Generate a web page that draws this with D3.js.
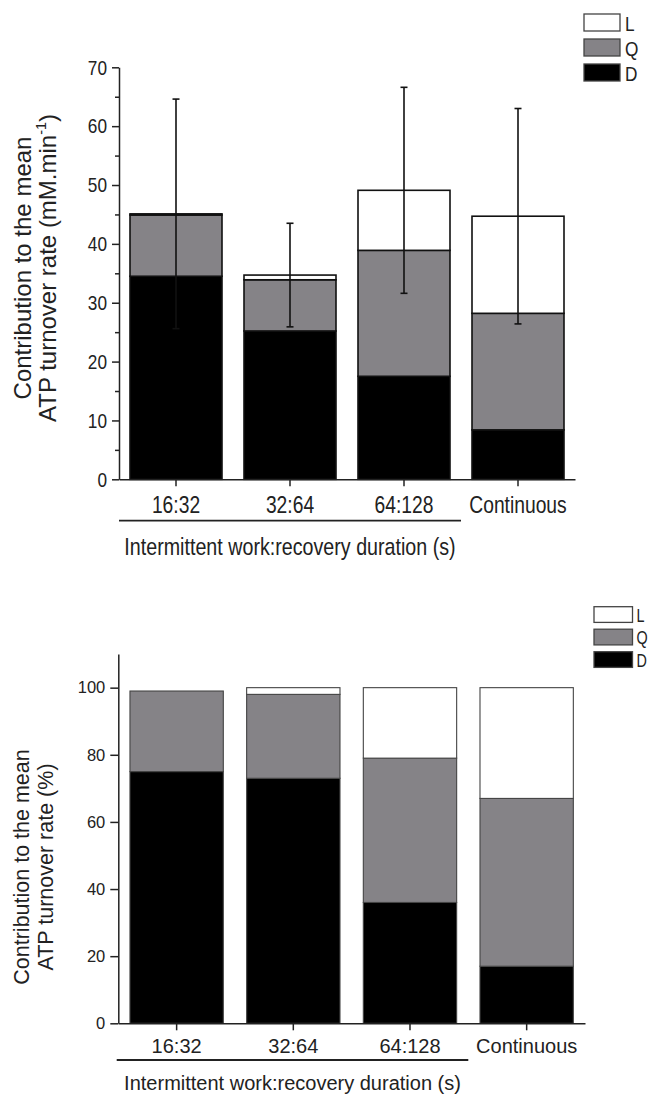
<!DOCTYPE html>
<html><head><meta charset="utf-8">
<script src="https://cdn.jsdelivr.net/npm/d3@7"></script>
<style>body{margin:0;background:#fff} svg{display:block}</style>
</head><body><svg id="c" width="650" height="1095"></svg>
<script>
// ---------------- data ----------------
const categories = ["16:32", "32:64", "64:128", "Continuous"];
const seriesKeys = ["D", "Q", "L"];
const absD  = [34.5, 25.2, 17.5, 8.4];
const absQ  = [10.4, 8.7, 21.4, 19.8];
const absL  = [0.2, 0.8, 10.2, 16.5];
const absSD = [19.5, 8.8, 17.5, 18.3];
const pctD  = [75, 73, 36, 17];
const pctQ  = [24, 25, 43, 50];
const pctL  = [0, 2, 21, 33];
const absTicks = [0, 10, 20, 30, 40, 50, 60, 70];
const absMinorTicks = [5, 15, 25, 35, 45, 55, 65];
const pctTicks = [0, 20, 40, 60, 80, 100];
const legendLabels = ["L", "Q", "D"];
const groupLabel = "Intermittent work:recovery duration (s)";
const yTitleLine1 = "Contribution to the mean";
const yTitleAbs = ["ATP turnover rate (mM.min", "-1", ")"];
const yTitlePct = "ATP turnover rate (%)";

// ---------------- styles ----------------
const fills = { D: "#000000", Q: "#858387", L: "#ffffff" };
const SANS = "'Liberation Sans', Arial, Helvetica, sans-serif";
const NARROW = 0.82; // Arial Narrow ~ Arial compressed horizontally

const svg = d3.select("#c");

function makeRows(d, q, l) {
  return categories.map((c, i) => ({ cat: c, D: d[i], Q: q[i], L: l[i] }));
}

function narrowTexts(sel) {
  sel.each(function () {
    const t = d3.select(this);
    const x = +t.attr("x") || 0;
    t.attr("x", x / NARROW).attr("transform", `scale(${NARROW},1)`);
  });
}

function panel(cfg) {
  const g = svg.append("g");
  const rows = makeRows(cfg.d, cfg.q, cfg.l);
  const stacked = d3.stack().keys(seriesKeys)(rows);

  const x = d3.scaleBand().domain(categories).range(cfg.xRange)
    .paddingInner(cfg.padIn).paddingOuter(cfg.padIn / 2);
  const y = d3.scaleLinear().domain(cfg.yDomain).range(cfg.yRange);

  // bars
  g.selectAll("g.series").data(stacked).join("g")
    .attr("fill", s => fills[s.key])
    .selectAll("rect").data(s => s).join("rect")
    .attr("x", d => x(d.data.cat))
    .attr("width", x.bandwidth())
    .attr("y", d => y(d[1]))
    .attr("height", d => Math.max(0, y(d[0]) - y(d[1])))
    .attr("stroke", cfg.barStroke)
    .attr("stroke-width", cfg.barStrokeW);

  // error bars
  if (cfg.sd) {
    const totals = rows.map(r => r.D + r.Q + r.L);
    const eb = g.append("g").attr("stroke", "#111").attr("stroke-width", 1.6);
    categories.forEach((c, i) => {
      const cx = x(c) + x.bandwidth() / 2;
      const lo = totals[i] - cfg.sd[i], hi = totals[i] + cfg.sd[i];
      eb.append("line").attr("x1", cx).attr("x2", cx).attr("y1", y(lo)).attr("y2", y(hi));
      [lo, hi].forEach(v => eb.append("line")
        .attr("x1", cx - 3.5).attr("x2", cx + 3.5).attr("y1", y(v)).attr("y2", y(v)));
    });
  }

  // y axis
  const ya = g.append("g").attr("transform", `translate(${cfg.xRange[0]},0)`)
    .call(d3.axisLeft(y).tickValues(cfg.ticks).tickSize(cfg.yTick).tickSizeOuter(0).tickPadding(5));
  if (cfg.minor) {
    g.append("g").attr("transform", `translate(${cfg.xRange[0]},0)`)
      .call(d3.axisLeft(y).tickValues(cfg.minor).tickSize(4).tickFormat(""))
      .call(a => a.select(".domain").remove());
  }
  // x axis
  const xa = g.append("g").attr("transform", `translate(0,${cfg.yRange[0]})`)
    .call(d3.axisBottom(x).tickSize(cfg.xTick).tickSizeOuter(0));
  xa.selectAll(".tick text").attr("dy", null).attr("y", cfg.xLabelOff);

  g.selectAll(".domain, .tick line").attr("stroke", "#222").attr("stroke-width", 1.5);
  ya.selectAll("text").attr("font-family", SANS).attr("font-size", cfg.yTickFont).attr("fill", "#222");
  xa.selectAll("text").attr("font-family", SANS).attr("font-size", cfg.xTickFont).attr("fill", "#222");
  if (cfg.narrow) { narrowTexts(ya.selectAll("text")); narrowTexts(xa.selectAll("text")); }

  // group underline & title
  g.append("line").attr("x1", cfg.ul[0]).attr("x2", cfg.ul[1])
    .attr("y1", cfg.ulY).attr("y2", cfg.ulY).attr("stroke", "#222").attr("stroke-width", 1.8);
  const tt = g.append("text").attr("font-family", SANS).attr("font-size", cfg.titleFont)
    .attr("fill", "#222").attr("text-anchor", "middle").text(groupLabel);
  if (cfg.narrow) tt.attr("transform", `translate(${(cfg.ul[0] + cfg.ul[1]) / 2},${cfg.titleY}) scale(${NARROW},1)`);
  else tt.attr("x", (cfg.ul[0] + cfg.ul[1]) / 2).attr("y", cfg.titleY);

  // y title
  g.append("text").attr("transform", `translate(${cfg.yt[0]},${cfg.ytY}) rotate(-90)`)
    .attr("text-anchor", "middle").attr("font-family", SANS).attr("font-size", cfg.ytFont)
    .attr("fill", "#222").text(yTitleLine1);
  const yt2 = g.append("text").attr("transform", `translate(${cfg.yt[1]},${cfg.ytY}) rotate(-90)`)
    .attr("text-anchor", "middle").attr("font-family", SANS).attr("font-size", cfg.ytFont)
    .attr("fill", "#222");
  if (Array.isArray(cfg.yTitle2)) {
    yt2.append("tspan").text(cfg.yTitle2[0]);
    yt2.append("tspan").attr("font-size", cfg.ytFont * 0.6).attr("dy", -cfg.ytFont * 0.4).text(cfg.yTitle2[1]);
    yt2.append("tspan").attr("dy", cfg.ytFont * 0.4).text(cfg.yTitle2[2]);
  } else yt2.text(cfg.yTitle2);

  // legend
  const lg = g.append("g");
  legendLabels.forEach((k, i) => {
    const yy = cfg.leg.y + i * cfg.leg.pitch;
    lg.append("rect").attr("x", cfg.leg.x).attr("y", yy).attr("width", cfg.leg.w).attr("height", cfg.leg.h)
      .attr("fill", fills[k]).attr("stroke", "#444").attr("stroke-width", 1.3);
    lg.append("text").attr("font-family", SANS).attr("font-size", cfg.leg.font)
      .attr("fill", "#222").attr("dominant-baseline", "central").text(k)
      .attr("transform", `translate(${cfg.leg.x + cfg.leg.w + cfg.leg.gap},${yy + cfg.leg.h / 2 + 1}) scale(${NARROW},1)`);
  });
}

// top panel: absolute rates
panel({
  d: absD, q: absQ, l: absL, sd: absSD,
  xRange: [119, 575], padIn: 0.193,
  yDomain: [0, 70], yRange: [479.3, 67.3],
  ticks: absTicks, minor: absMinorTicks, yTick: 7, xTick: 7,
  barStroke: "#111", barStrokeW: 1.6,
  xLabelOff: 33.4, yTickFont: 21, xTickFont: 23.5, narrow: true,
  ul: [119, 461], ulY: 520.7, titleY: 555, titleFont: 24,
  yt: [31, 56], ytY: 268, ytFont: 24, yTitle2: yTitleAbs,
  leg: { x: 584, y: 14, w: 36, h: 17, pitch: 25, font: 21, gap: 5 }
});

// bottom panel: percentages
panel({
  d: pctD, q: pctQ, l: pctL, sd: null,
  xRange: [118.3, 585], padIn: 0.2,
  yDomain: [0, 110], yRange: [1023.3, 654.1],
  ticks: pctTicks, minor: null, yTick: 8, xTick: 7,
  barStroke: "#444", barStrokeW: 1.1,
  xLabelOff: 30, yTickFont: 16.5, xTickFont: 20, narrow: false,
  ul: [116.7, 468.3], ulY: 1060, titleY: 1090, titleFont: 20,
  yt: [29, 53], ytY: 867, ytFont: 21.5, yTitle2: yTitlePct,
  leg: { x: 594, y: 606.7, w: 38.5, h: 15.7, pitch: 22.5, font: 17.5, gap: 4 }
});
</script>
</body></html>
